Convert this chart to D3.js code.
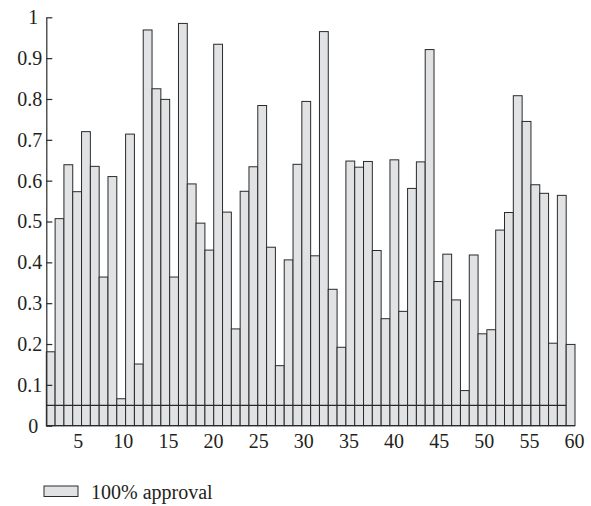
<!DOCTYPE html>
<html>
<head>
<meta charset="utf-8">
<script src="https://cdn.jsdelivr.net/npm/d3@7"></script>
<style>
  html, body { margin: 0; padding: 0; background: #fff; }
  svg { display: block; }
  text { font-family: "Liberation Serif", "Times New Roman", serif; fill: #231f20; }
</style>
</head>
<body>
<svg id="chart" width="591" height="506"></svg>
<script>
const categories = d3.range(1, 61);
const approval = [
  0.181, 0.507, 0.639, 0.573, 0.720, 0.635, 0.364, 0.610, 0.066, 0.714,
  0.151, 0.969, 0.825, 0.799, 0.364, 0.985, 0.592, 0.496, 0.430, 0.934,
  0.523, 0.237, 0.574, 0.634, 0.784, 0.437, 0.147, 0.406, 0.640, 0.794,
  0.416, 0.965, 0.334, 0.192, 0.648, 0.633, 0.647, 0.429, 0.262, 0.651,
  0.280, 0.581, 0.646, 0.921, 0.353, 0.420, 0.308, 0.086, 0.418, 0.225,
  0.235, 0.479, 0.522, 0.808, 0.745, 0.590, 0.569, 0.202, 0.564, 0.199
];
const threshold = 0.05;
const thresholdEnd = 59;
const yTicks = [0, 0.1, 0.2, 0.3, 0.4, 0.5, 0.6, 0.7, 0.8, 0.9, 1];
const xTicks = [5, 10, 15, 20, 25, 30, 35, 40, 45, 50, 55, 60];
const legendLabel = "100% approval";

const svg = d3.select("#chart");
const x = d3.scaleBand().domain(categories).range([46.3, 575]).paddingInner(0).paddingOuter(0);
const y = d3.scaleLinear().domain([0, 1]).range([425.7, 17.3]);
const xLab = d3.scaleLinear().domain([5, 60]).range([77.7, 574]);

// bars
svg.append("g").selectAll("rect")
  .data(approval)
  .join("rect")
  .attr("x", (d, i) => x(categories[i]))
  .attr("y", d => y(d))
  .attr("width", x.bandwidth())
  .attr("height", d => y(0) - y(d))
  .attr("fill", "#e1e2e4")
  .attr("stroke", "#2a2a2a")
  .attr("stroke-width", 1);

// threshold line
svg.append("line")
  .attr("x1", x(categories[0]))
  .attr("x2", x(thresholdEnd) + x.bandwidth())
  .attr("y1", y(threshold))
  .attr("y2", y(threshold))
  .attr("stroke", "#2a2a2a")
  .attr("stroke-width", 1.2);

// x baseline
svg.append("line")
  .attr("x1", x.range()[0]).attr("x2", x.range()[1])
  .attr("y1", y(0)).attr("y2", y(0))
  .attr("stroke", "#2a2a2a").attr("stroke-width", 1.2);

// y axis
const yAxis = svg.append("g")
  .attr("transform", `translate(${x.range()[0]},0)`)
  .call(d3.axisLeft(y).tickValues(yTicks).tickSize(-6).tickSizeOuter(0).tickPadding(4)
    .tickFormat(d => d3.format("~g")(d)));
yAxis.select(".domain").attr("stroke", "#2a2a2a").attr("stroke-width", 1.2);
yAxis.selectAll(".tick line").attr("stroke", "#2a2a2a").attr("stroke-width", 1.2);
yAxis.selectAll(".tick text")
  .attr("font-size", 20)
  .attr("font-family", "Liberation Serif, serif")
  .attr("fill", "#231f20")
  .attr("dx", d => (d === 0 || d === 1) ? -4 : 0);

// x axis labels
const xAxis = svg.append("g")
  .attr("transform", `translate(0,${y(0)})`)
  .call(d3.axisBottom(xLab).tickValues(xTicks).tickSize(0).tickPadding(8));
xAxis.select(".domain").remove();
xAxis.selectAll(".tick text")
  .attr("font-size", 20)
  .attr("font-family", "Liberation Serif, serif")
  .attr("fill", "#231f20");

// legend
const lg = svg.append("g");
lg.append("rect")
  .attr("x", 44).attr("y", 486).attr("width", 34).attr("height", 10.5)
  .attr("fill", "#e1e2e4").attr("stroke", "#2a2a2a").attr("stroke-width", 1);
lg.append("text")
  .attr("x", 91).attr("y", 498.5)
  .attr("font-size", 20)
  .text(legendLabel);
</script>
</body>
</html>
